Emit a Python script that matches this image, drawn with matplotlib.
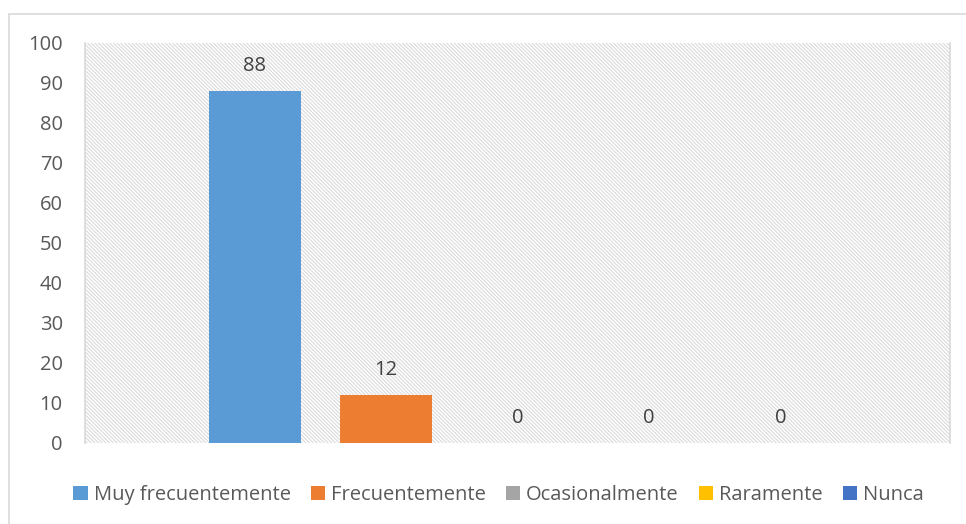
import matplotlib
matplotlib.use("Agg")
import matplotlib.pyplot as plt
from matplotlib.patches import Rectangle

# ── Data ──────────────────────────────────────────────────────────────────────
CATEGORIES = ["Muy frecuentemente", "Frecuentemente", "Ocasionalmente", "Raramente", "Nunca"]
VALUES = [88, 12, 0, 0, 0]
YTICKS = [0, 10, 20, 30, 40, 50, 60, 70, 80, 90, 100]

# ── Style ─────────────────────────────────────────────────────────────────────
COLORS = ["#5B9BD5", "#ED7D31", "#A5A5A5", "#FFC000", "#4472C4"]
TEXT_COLOR = "#595959"
GRID_GRAY = "#d9d9d9"
HATCH_GRAY = "#dadada"
FONT = "Open Sans"
FS = 14.5

plt.rcParams["font.family"] = [FONT, "DejaVu Sans"]
plt.rcParams["hatch.linewidth"] = 0.8

W, H = 966, 524
fig = plt.figure(figsize=(W / 100, H / 100), dpi=100)

# outer chart border (partly cropped at right/bottom)
fig.patches.append(Rectangle((9 / W, -0.05), 1.1, 1 - 14 / H + 0.05,
                             transform=fig.transFigure, fill=False,
                             edgecolor=GRID_GRAY, linewidth=1.2, clip_on=False))

left, right, top, bottom = 85, 950, 43, 443
ax = fig.add_axes([left / W, 1 - bottom / H, (right - left) / W, (bottom - top) / H])

# hatched plot area
ax.add_patch(Rectangle((0, 0), 1, 1, transform=ax.transAxes, facecolor="white",
                       edgecolor=HATCH_GRAY, linewidth=0, hatch="\\" * 9, zorder=0))

x = list(range(len(CATEGORIES)))
for i, (cat, val, col) in enumerate(zip(CATEGORIES, VALUES, COLORS)):
    ax.bar(x[i], val, width=0.70, color=col, label=cat, zorder=2)
    ax.annotate(f"{val}", (x[i], val), xytext=(0, 18), textcoords="offset points",
                ha="center", va="center", fontsize=FS, color="#404040")

ax.set_xlim(-1.29, 5.29)
ax.set_ylim(0, 100)
ax.set_yticks(YTICKS)
ax.set_yticklabels([str(t) for t in YTICKS], fontsize=FS, color=TEXT_COLOR)
ax.set_xticks([])
ax.tick_params(axis="y", length=0, pad=16)
for s in ["top", "bottom"]:
    ax.spines[s].set_visible(False)
for s in ["left", "right"]:
    ax.spines[s].set_color(GRID_GRAY)
    ax.spines[s].set_linewidth(1.2)

fig.legend(loc="center", bbox_to_anchor=(498.5 / W, 1 - 495 / H), ncol=5,
           frameon=False, fontsize=FS, handlelength=0.7, handleheight=0.7,
           handletextpad=0.3, columnspacing=1.0, labelcolor=TEXT_COLOR,
           borderaxespad=0)

fig.savefig("out.png", dpi=100)
